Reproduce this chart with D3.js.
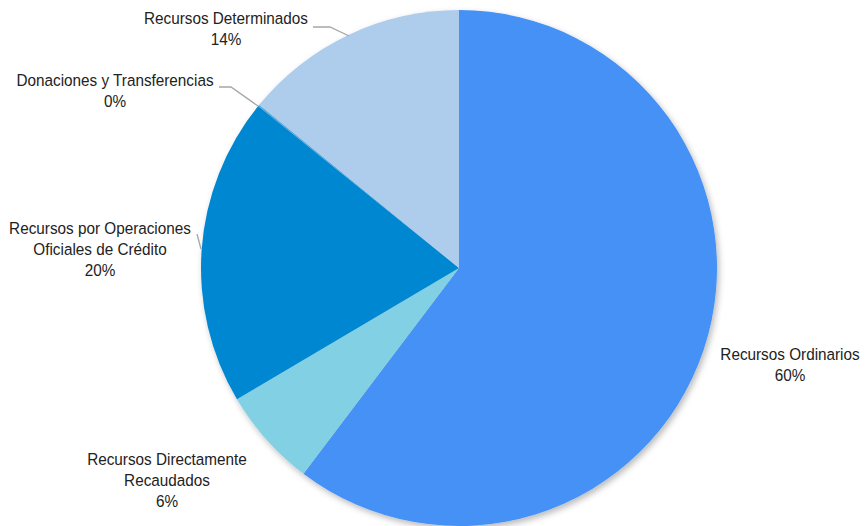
<!DOCTYPE html>
<html>
<head>
<meta charset="utf-8">
<script src="https://cdn.jsdelivr.net/npm/d3@7"></script>
<style>
  html, body { margin: 0; padding: 0; background: #fff; }
  svg { display: block; }
  text { font-family: "Liberation Sans", Arial, sans-serif; font-size: 17px; fill: #222; }
</style>
</head>
<body>
<svg id="chart" width="866" height="526"></svg>
<script>
// Budget shares by funding source (percent)
const categories = [
  "Recursos Ordinarios",
  "Recursos Directamente Recaudados",
  "Recursos por Operaciones Oficiales de Crédito",
  "Donaciones y Transferencias",
  "Recursos Determinados"
];
const values = [60.3, 6.2, 19.3, 0.1, 14.1];
const shownPct = ["60%", "6%", "20%", "0%", "14%"];
const labelLines = [
  ["Recursos Ordinarios"],
  ["Recursos Directamente", "Recaudados"],
  ["Recursos por Operaciones", "Oficiales de Crédito"],
  ["Donaciones y Transferencias"],
  ["Recursos Determinados"]
];
const colors = ["#4591F5", "#82D0E3", "#0087D1", "#4FA8DE", "#AECCEC"];

const svg = d3.select("#chart");
const cx = 459, cy = 268, R = 258;

const defs = svg.append("defs");
const f = defs.append("filter").attr("id", "shadow")
  .attr("x", "-10%").attr("y", "-10%").attr("width", "120%").attr("height", "120%");
f.append("feDropShadow").attr("dx", 2).attr("dy", 3).attr("stdDeviation", 3)
  .attr("flood-color", "#000").attr("flood-opacity", 0.28);

const data = categories.map((c, i) => ({ name: c, value: values[i], pct: shownPct[i], lines: labelLines[i], color: colors[i] }));

const pie = d3.pie().value(d => d.value).sort(null);
const arc = d3.arc().innerRadius(0).outerRadius(R);
const arcs = pie(data);

const g = svg.append("g").attr("transform", `translate(${cx},${cy})`);
g.append("g").attr("filter", "url(#shadow)")
  .selectAll("path").data(arcs).join("path")
  .attr("d", arc)
  .attr("fill", d => d.data.color);

// Label anchors (center of first text line) and leader lines
const labelPos = [
  { x: 790, y: 354 },
  { x: 167, y: 459 },
  { x: 100, y: 228 },
  { x: 115, y: 80 },
  { x: 226, y: 18 }
];
const leaders = [
  null,
  null,
  [[197, 234], [201, 249]],
  [[219, 87], [231, 87], [258, 106]],
  [[313, 27], [330, 27], [349, 36]]
];

const line = d3.line();
leaders.forEach(pts => {
  if (!pts) return;
  svg.append("path").attr("d", line(pts))
    .attr("fill", "none").attr("stroke", "#a6a6a6").attr("stroke-width", 1.3);
});

// Condensed labels: horizontally squeeze around each label's centre
const squeeze = 0.9;
const lh = 21;
data.forEach((d, i) => {
  const p = labelPos[i];
  const t = svg.append("text").attr("text-anchor", "middle")
    .attr("transform", `translate(${p.x},0) scale(${squeeze},1)`);
  const all = d.lines.concat([d.pct]);
  all.forEach((s, k) => {
    t.append("tspan").attr("x", 0).attr("y", p.y + 6 + k * lh).text(s);
  });
});
</script>
</body>
</html>
